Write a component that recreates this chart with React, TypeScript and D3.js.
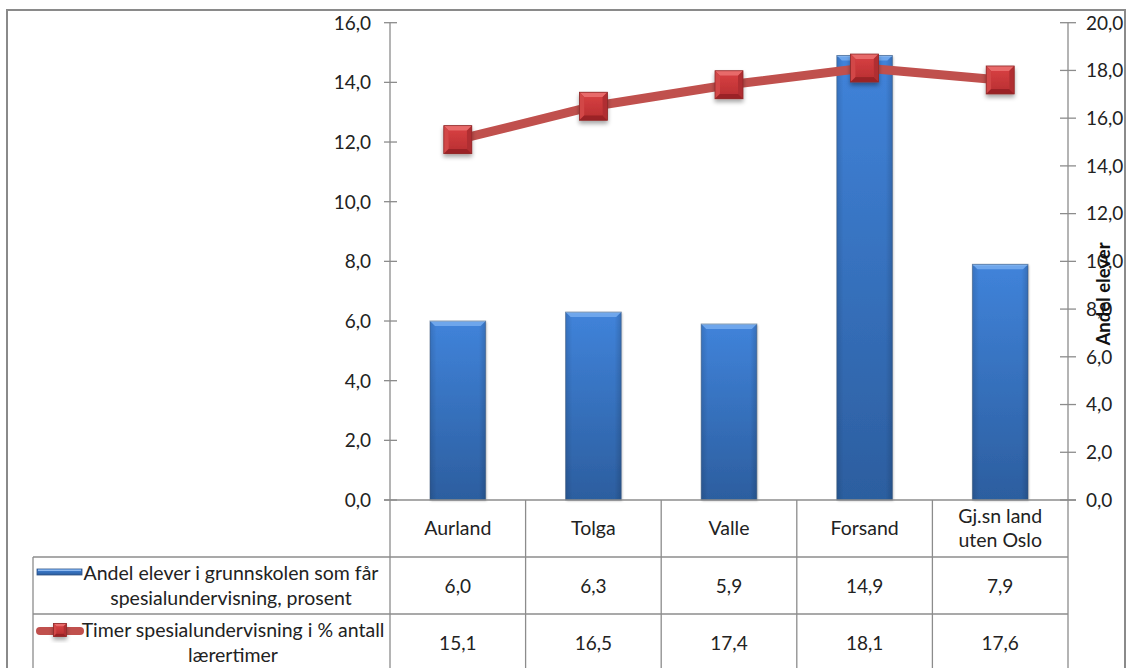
import React from "react";
import * as d3 from "d3";

const categories = ["Aurland", "Tolga", "Valle", "Forsand", "Gj.sn land uten Oslo"];
const categoryLines = [["Aurland"], ["Tolga"], ["Valle"], ["Forsand"], ["Gj.sn land", "uten Oslo"]];
const barValues = [6.0, 6.3, 5.9, 14.9, 7.9];
const lineValues = [15.1, 16.5, 17.4, 18.1, 17.6];
const leftTicks = [0, 2, 4, 6, 8, 10, 12, 14, 16];
const rightTicks = [0, 2, 4, 6, 8, 10, 12, 14, 16, 18, 20];
const barSeriesName = ["Andel elever i grunnskolen som får", "spesialundervisning, prosent"];
const lineSeriesName = ["Timer spesialundervisning i % antall", "lærertimer"];
const rightAxisTitle = "Andel elever";

const W = 1127;
const H = 668;
const FONT = "Lato, 'Open Sans', sans-serif";
const fmt = (v: number) => d3.format(".1f")(v).replace(".", ",");

export default function App() {
  const plotL = 390, plotR = 1068, plotT = 22.7, plotB = 500;
  const x = d3.scaleBand<string>().domain(categories).range([plotL, plotR]).padding(0);
  const yL = d3.scaleLinear().domain([0, 16]).range([plotB, plotT]);
  const yR = d3.scaleLinear().domain([0, 20]).range([plotB, plotT]);
  const bw = x.bandwidth() * 0.41;
  const cx = (c: string) => (x(c) as number) + x.bandwidth() / 2;
  const line = d3.line<number>().x((_, i) => cx(categories[i])).y((d) => yR(d));
  const gridColor = "#8c8c8c";
  const row1Top = 557, row2Top = 614, tableLeft = 33;
  const ms = 28;
  const bev = 5;
  const numSize = 19;
  const txtSize = 19.5;

  const marker = (mx: number, my: number, s: number, b: number, key: string) => {
    const x0 = mx - s / 2, y0 = my - s / 2, x1 = mx + s / 2, y1 = my + s / 2;
    return (
      <g key={key} filter="url(#mshadow)">
        <rect x={x0} y={y0} width={s} height={s} fill="#c8383a" />
        <polygon points={`${x0},${y0} ${x1},${y0} ${x1 - b},${y0 + b} ${x0 + b},${y0 + b}`} fill="#e86a6a" />
        <polygon points={`${x0},${y0} ${x0 + b},${y0 + b} ${x0 + b},${y1 - b} ${x0},${y1}`} fill="#d24646" />
        <polygon points={`${x1},${y0} ${x1 - b},${y0 + b} ${x1 - b},${y1 - b} ${x1},${y1}`} fill="#b02f31" />
        <polygon points={`${x0},${y1} ${x0 + b},${y1 - b} ${x1 - b},${y1 - b} ${x1},${y1}`} fill="#9a2426" />
        <rect x={x0 + b} y={y0 + b} width={s - 2 * b} height={s - 2 * b} fill="url(#mface)" />
        <rect x={x0} y={y0} width={s} height={s} fill="none" stroke="#8e2a2a" strokeWidth={0.8} />
      </g>
    );
  };

  return (
    <>
      <style>{`body{margin:0;}`}</style>
      <svg width={W} height={H} style={{ display: "block", fontFamily: FONT }}>
        <defs>
          <linearGradient id="barg" x1="0" y1="0" x2="0" y2="1">
            <stop offset="0" stopColor="#4083da" />
            <stop offset="1" stopColor="#2c5e9f" />
          </linearGradient>
          <linearGradient id="barh" x1="0" y1="0" x2="1" y2="0">
            <stop offset="0" stopColor="#000" stopOpacity={0.12} />
            <stop offset="0.12" stopColor="#000" stopOpacity={0} />
            <stop offset="0.88" stopColor="#000" stopOpacity={0} />
            <stop offset="1" stopColor="#000" stopOpacity={0.15} />
          </linearGradient>
          <linearGradient id="mface" x1="0" y1="0" x2="0" y2="1">
            <stop offset="0" stopColor="#d43e40" />
            <stop offset="1" stopColor="#bd3234" />
          </linearGradient>
          <filter id="mshadow" x="-40%" y="-40%" width="180%" height="190%">
            <feDropShadow dx="0" dy="3" stdDeviation="2" floodColor="#000" floodOpacity="0.35" />
          </filter>
          <filter id="bshadow" x="-20%" y="-5%" width="140%" height="110%">
            <feDropShadow dx="1" dy="1" stdDeviation="1.2" floodColor="#000" floodOpacity="0.25" />
          </filter>
        </defs>

        {/* outer frame */}
        <rect x={7} y={10} width={1118} height={H} fill="#fff" stroke="#8a8a8a" strokeWidth={2} />

        {/* bars */}
        {categories.map((c, i) => {
          const bx = cx(c) - bw / 2;
          const by = yL(barValues[i]);
          const bh = plotB - by;
          const b = 5;
          return (
            <g key={c}>
              <rect x={bx} y={by} width={bw} height={bh} fill="url(#barg)" filter="url(#bshadow)" />
              <rect x={bx} y={by} width={bw} height={bh} fill="url(#barh)" />
              <polygon points={`${bx},${by} ${bx + bw},${by} ${bx + bw - b},${by + b} ${bx + b},${by + b}`} fill="#6ea6ec" />
              <line x1={bx} x2={bx + bw} y1={by + 0.5} y2={by + 0.5} stroke="#9cc4f2" strokeWidth={1} />
              <rect x={bx} y={by} width={bw} height={bh} fill="none" stroke="#3b5578" strokeOpacity={0.55} strokeWidth={1} />
            </g>
          );
        })}

        {/* left axis */}
        <line x1={plotL} x2={plotL} y1={plotT} y2={H} stroke={gridColor} strokeWidth={1.3} />
        {leftTicks.map((t) => (
          <g key={"l" + t}>
            <line x1={384} x2={397} y1={yL(t)} y2={yL(t)} stroke={gridColor} strokeWidth={1.3} />
            <text x={371} y={yL(t)} dy="0.36em" textAnchor="end" fontSize={numSize} fill="#222">{fmt(t)}</text>
          </g>
        ))}

        {/* right axis */}
        <line x1={plotR} x2={plotR} y1={plotT} y2={H} stroke={gridColor} strokeWidth={1.3} />
        {rightTicks.map((t) => (
          <g key={"r" + t}>
            <line x1={1060} x2={1076} y1={yR(t)} y2={yR(t)} stroke={gridColor} strokeWidth={1.3} />
            <text x={1086} y={yR(t)} dy="0.36em" textAnchor="start" fontSize={numSize} fill="#222">{fmt(t)}</text>
          </g>
        ))}
        <text transform={`translate(1110,294) rotate(-90)`} textAnchor="middle" fontSize={18.5} fontWeight="bold" fill="#111">{rightAxisTitle}</text>

        {/* category axis + table */}
        <line x1={384} x2={1076} y1={plotB} y2={plotB} stroke={gridColor} strokeWidth={1.3} />
        {categories.map((c, i) => (
          <g key={"t" + c}>
            {i > 0 && <line x1={x(c)} x2={x(c)} y1={plotB} y2={H} stroke={gridColor} strokeWidth={1.3} />}
            {categoryLines[i].map((ln, j, arr) => (
              <text key={j} x={cx(c)} y={528 + (j - (arr.length - 1) / 2) * 24} dy="0.36em" textAnchor="middle" fontSize={txtSize} fill="#222">{ln}</text>
            ))}
            <text x={cx(c)} y={586} dy="0.36em" textAnchor="middle" fontSize={numSize} fill="#222">{fmt(barValues[i])}</text>
            <text x={cx(c)} y={643} dy="0.36em" textAnchor="middle" fontSize={numSize} fill="#222">{fmt(lineValues[i])}</text>
          </g>
        ))}
        <line x1={tableLeft} x2={plotR} y1={row1Top} y2={row1Top} stroke={gridColor} strokeWidth={1.3} />
        <line x1={tableLeft} x2={plotR} y1={row2Top} y2={row2Top} stroke={gridColor} strokeWidth={1.3} />
        <line x1={tableLeft} x2={tableLeft} y1={row1Top} y2={H} stroke={gridColor} strokeWidth={1.3} />

        {/* legend keys + series names */}
        <rect x={37} y={569} width={45} height={6} fill="url(#barg)" stroke="#2b4f80" strokeWidth={0.8} />
        <rect x={38} y={569.5} width={43} height={1.5} fill="#8fbaf0" />
        {barSeriesName.map((t, j) => (
          <text key={j} x={231} y={573 + j * 25} dy="0.36em" textAnchor="middle" fontSize={txtSize} fill="#222">{t}</text>
        ))}
        <line x1={40} x2={80} y1={631} y2={631} stroke="#c0504d" strokeWidth={8} strokeLinecap="round" />
        {marker(60, 630, 13, 3, "lk")}
        {lineSeriesName.map((t, j) => (
          <text key={j} x={233} y={630 + j * 25} dy="0.36em" textAnchor="middle" fontSize={txtSize} fill="#222">{t}</text>
        ))}

        {/* line series */}
        <path d={line(lineValues) as string} fill="none" stroke="#c0504d" strokeWidth={9} strokeLinejoin="round" />
        {lineValues.map((v, i) => marker(cx(categories[i]), yR(v), ms, bev, "m" + i))}
      </svg>
    </>
  );
}
